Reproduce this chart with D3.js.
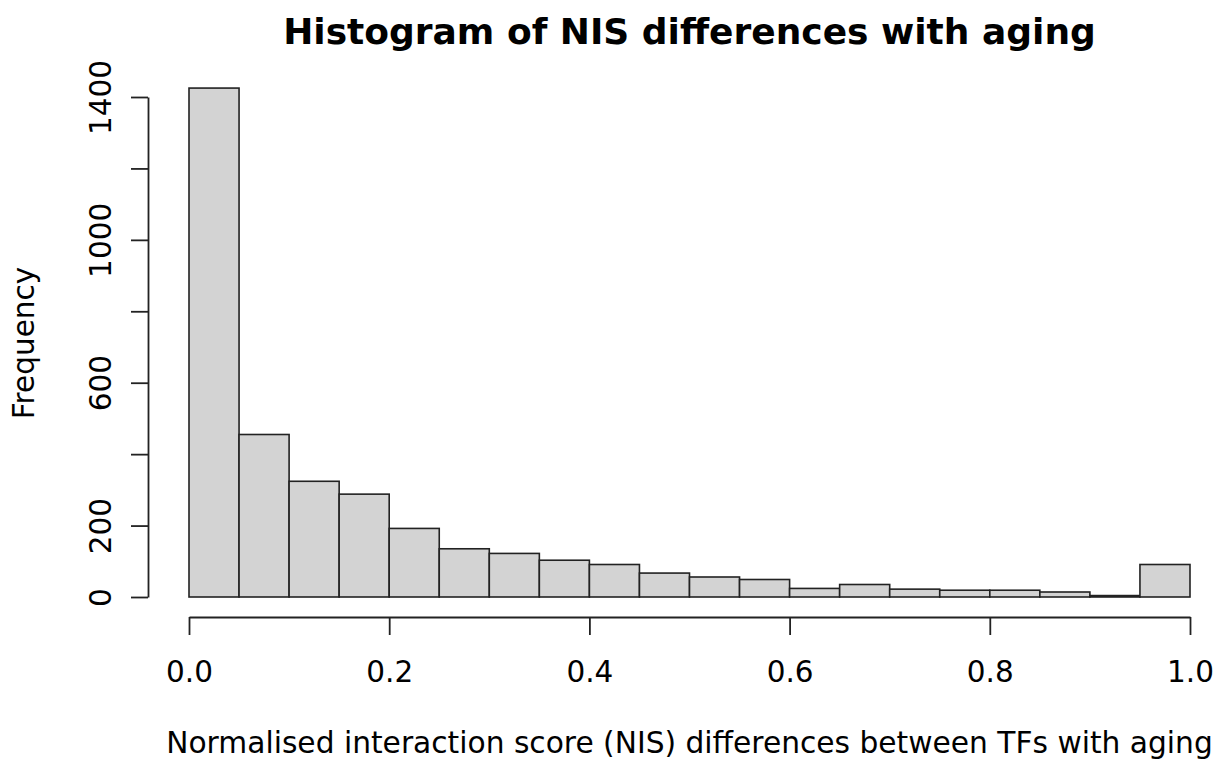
<!DOCTYPE html>
<meta charset="utf-8">
<title>Histogram of NIS differences with aging</title>
<style>
    body { margin: 0; background: #fff; }
    text { font-family: "DejaVu Sans", sans-serif; fill: #000; }
    .axis path, .axis line { stroke: #222; stroke-width: 1.8px; }
    .bar { fill: #d3d3d3; stroke: #222; stroke-width: 1.6px; }
</style>
<body>
</body>

<script src="https://d3js.org/d3.v7.min.js"></script>
<script>
    const width = 1219, height = 760;

    // histogram bins (left edge, width 0.05) and counts
    const binStart = [0.00, 0.05, 0.10, 0.15, 0.20, 0.25, 0.30, 0.35, 0.40, 0.45,
                      0.50, 0.55, 0.60, 0.65, 0.70, 0.75, 0.80, 0.85, 0.90, 0.95];
    const binWidth = 0.05;
    const counts = [1425, 455, 324, 288, 192, 135, 122, 103, 91, 67,
                    56, 49, 24, 35, 22, 19, 19, 14, 4, 91];
    const xTicks = [0, 0.2, 0.4, 0.6, 0.8, 1.0];
    const yTicks = [0, 200, 400, 600, 800, 1000, 1200, 1400];
    const yLabelled = [0, 200, 600, 1000, 1400];

    const x = d3.scaleLinear().domain([0, 1]).range([189, 1190]);
    const y = d3.scaleLinear().domain([0, 1400]).range([597, 97]);

    const svg = d3.select("body").append("svg")
        .attr("width", width)
        .attr("height", height);

    const bins = binStart.map((b, i) => ({x0: b, x1: b + binWidth, n: counts[i]}));

    svg.append("g")
        .selectAll("rect")
        .data(bins)
        .join("rect")
        .attr("class", "bar")
        .attr("x", d => x(d.x0))
        .attr("y", d => y(d.n))
        .attr("width", d => x(d.x1) - x(d.x0))
        .attr("height", d => y(0) - y(d.n));

    // x axis
    const gx = svg.append("g")
        .attr("class", "axis")
        .attr("transform", "translate(0,617)")
        .call(d3.axisBottom(x).tickValues(xTicks).tickSize(18).tickSizeOuter(0)
            .tickFormat(d3.format(".1f")));
    gx.selectAll("text")
        .style("font-size", "29.5px")
        .attr("y", 65)
        .attr("dy", 0);

    // y axis
    const gy = svg.append("g")
        .attr("class", "axis")
        .attr("transform", "translate(148,0)")
        .call(d3.axisLeft(y).tickValues(yTicks).tickSize(17).tickSizeOuter(0)
            .tickFormat(d => yLabelled.includes(d) ? d : ""));
    gy.selectAll("text")
        .style("font-size", "29.5px")
        .attr("text-anchor", "middle")
        .attr("transform", "rotate(-90)")
        .attr("x", 0)
        .attr("y", -37)
        .attr("dy", 0);

    svg.append("text")
        .attr("x", 689.5)
        .attr("y", 43.5)
        .attr("text-anchor", "middle")
        .style("font-size", "36px")
        .style("font-weight", "bold")
        .text("Histogram of NIS differences with aging");

    svg.append("text")
        .attr("x", 689.5)
        .attr("y", 753)
        .attr("text-anchor", "middle")
        .style("font-size", "29.7px")
        .text("Normalised interaction score (NIS) differences between TFs with aging");

    svg.append("text")
        .attr("transform", "translate(33.5,343) rotate(-90)")
        .attr("text-anchor", "middle")
        .style("font-size", "29.5px")
        .text("Frequency");
</script>
